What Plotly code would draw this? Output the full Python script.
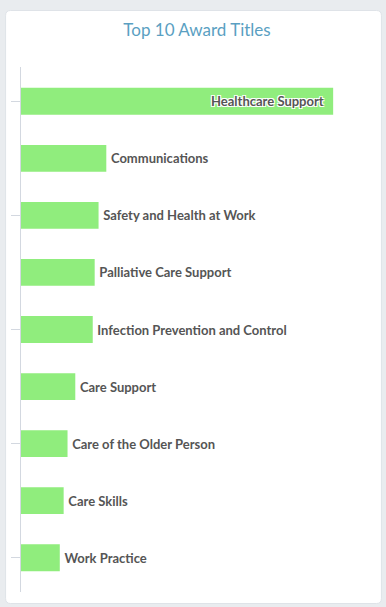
import plotly.graph_objects as go

# Award titles and how many of each were issued
titles = [
    "Healthcare Support",
    "Communications",
    "Safety and Health at Work",
    "Palliative Care Support",
    "Infection Prevention and Control",
    "Care Support",
    "Care of the Older Person",
    "Care Skills",
    "Work Practice",
]
counts = [161, 44, 40, 38, 37, 28, 24, 22, 20]

W, H = 386, 607
# plot area in pixels
PL, PR, PT, PB = 19, 370, 67, 592


def px(x):
    return (x - PL) / (PR - PL)


def py(y):
    return (PB - y) / (PB - PT)


def rounded_rect(x0, y0, x1, y1, r):
    return (
        f"M {px(x0 + r)},{py(y0)} L {px(x1 - r)},{py(y0)} "
        f"Q {px(x1)},{py(y0)} {px(x1)},{py(y0 + r)} "
        f"L {px(x1)},{py(y1 - r)} Q {px(x1)},{py(y1)} {px(x1 - r)},{py(y1)} "
        f"L {px(x0 + r)},{py(y1)} Q {px(x0)},{py(y1)} {px(x0)},{py(y1 - r)} "
        f"L {px(x0)},{py(y0 + r)} Q {px(x0)},{py(y0)} {px(x0 + r)},{py(y0)} Z"
    )


label_font = dict(family="Lato, 'Open Sans', sans-serif", size=13, color="#555555",
                  weight="bold",
                  shadow="1px 1px 0 #fff, -1px -1px 0 #fff, 1px -1px 0 #fff, -1px 1px 0 #fff")

positions = ["inside" if i == 0 else "outside" for i in range(len(titles))]
# a little breathing room between label and bar edge
labels = [t + "\u2002" if i == 0 else "\u2009" + t for i, t in enumerate(titles)]

fig = go.Figure(
    go.Bar(
        x=counts,
        y=titles,
        orientation="h",
        marker=dict(color="#90ed7d", line=dict(width=0)),
        text=labels,
        texttemplate="%{text}",
        textposition=positions,
        insidetextanchor="end",
        textfont=label_font,
        insidetextfont=label_font,
        outsidetextfont=label_font,
        constraintext="none",
        cliponaxis=False,
        hoverinfo="x+y",
    )
)

fig.update_layout(
    width=W,
    height=H,
    margin=dict(l=PL, r=W - PR, t=PT, b=H - PB, pad=0),
    paper_bgcolor="#e9ecef",
    plot_bgcolor="rgba(0,0,0,0)",
    bargap=0.53,
    showlegend=False,
    title=dict(
        text="Top 10 Award Titles",
        x=197 / W,
        xref="container",
        xanchor="center",
        y=1 - 30 / H,
        yref="container",
        yanchor="middle",
        font=dict(family="Lato, sans-serif", size=17, color="#5a9fc2"),
    ),
    xaxis=dict(range=[0, 180], visible=False, fixedrange=True),
    yaxis=dict(
        type="category",
        categoryorder="array",
        categoryarray=titles,
        range=[8.6, -0.6],
        showline=True,
        linecolor="#d3d8e0",
        linewidth=1,
        ticks="outside",
        ticklen=9,
        tickcolor="#d3d8e0",
        tickmode="linear",
        tick0=0,
        dtick=2,
        showticklabels=False,
        showgrid=False,
        zeroline=False,
        fixedrange=True,
    ),
    shapes=[
        dict(
            type="path",
            xref="paper",
            yref="paper",
            path=rounded_rect(3.5, 10.5, 381.5, 603.5, 5),
            fillcolor="#ffffff",
            line=dict(color="#dfe3e8", width=1),
            layer="below",
        )
    ],
)

fig.write_html("out.html", config={"displayModeBar": False})
